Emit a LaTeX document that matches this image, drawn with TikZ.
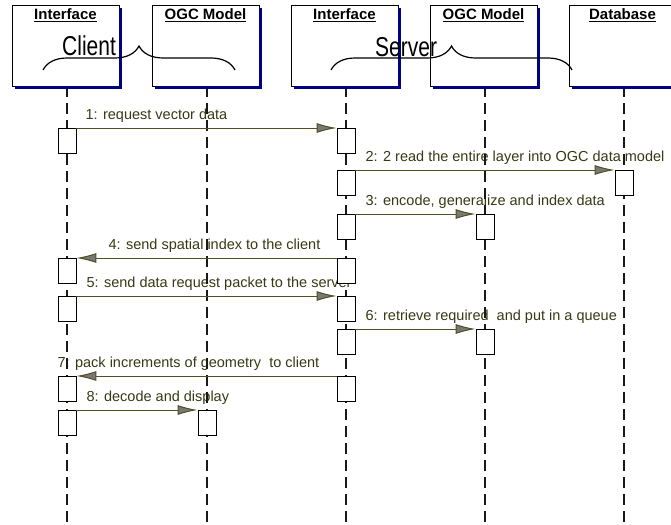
\documentclass[tikz,border=0pt]{standalone}
\usepackage{fontspec}
\setmainfont{Liberation Sans}
\usetikzlibrary{arrows.meta,positioning,decorations.pathreplacing,calc}

\definecolor{msgline}{RGB}{80,80,32}
\definecolor{msgtext}{RGB}{56,56,20}
\definecolor{headgray}{RGB}{120,120,120}
\definecolor{navyshade}{RGB}{0,0,128}

\pgfdeclarelayer{behind}
\pgfsetlayers{behind,main}

\begin{document}
\begin{tikzpicture}[
  x=1pt, y=-1pt,
  font=\fontsize{14.5}{17}\selectfont,
  header/.style={draw, line width=0.9pt, fill=white,
    minimum width=107pt, minimum height=81pt, inner sep=0pt},
  headshade/.style={draw=navyshade, line width=3pt, line join=miter},
  title/.style={anchor=base, inner sep=0pt, font=\fontsize{15}{17}\selectfont\bfseries},
  act/.style={draw, line width=0.9pt, fill=white,
    minimum width=18pt, minimum height=25pt, inner sep=0pt, anchor=north},
  lifeline/.style={line width=1.2pt, black!90, dash pattern=on 11pt off 6pt},
  msg/.style={draw=msgline, line width=1pt, -{Latex[length=20pt,width=10pt,fill=headgray]}},
  lbl/.style={anchor=base west, text=msgtext, inner sep=0pt},
  group/.style={line width=1.2pt, decorate, decoration={brace, amplitude=24pt}},
  grouplbl/.style={anchor=base west, inner sep=0pt, font=\fontsize{21}{24}\selectfont}
]
\useasboundingbox (0,0) rectangle (671,524);
\coordinate (bot) at (0,524);

% Object headers
\node[header] (ci) at (65.5,45.5) {};
\node[header] (cm) at (205.5,45.5) {};
\node[header] (si) at (344.5,45.5) {};
\node[header] (sm) at (483.5,45.5) {};
\node[header] (db) at (622.5,45.5) {};
% navy shadow along right and bottom edges
\draw[headshade] ([xshift=1.5pt,yshift=-3pt]ci.north east) -- ([xshift=1.5pt,yshift=-1.5pt]ci.south east) -- ([xshift=3pt,yshift=-1.5pt]ci.south west);
\draw[headshade] ([xshift=1.5pt,yshift=-3pt]cm.north east) -- ([xshift=1.5pt,yshift=-1.5pt]cm.south east) -- ([xshift=3pt,yshift=-1.5pt]cm.south west);
\draw[headshade] ([xshift=1.5pt,yshift=-3pt]si.north east) -- ([xshift=1.5pt,yshift=-1.5pt]si.south east) -- ([xshift=3pt,yshift=-1.5pt]si.south west);
\draw[headshade] ([xshift=1.5pt,yshift=-3pt]sm.north east) -- ([xshift=1.5pt,yshift=-1.5pt]sm.south east) -- ([xshift=3pt,yshift=-1.5pt]sm.south west);
\draw[headshade] ([xshift=1.5pt,yshift=-3pt]db.north east) -- ([xshift=1.5pt,yshift=-1.5pt]db.south east) -- ([xshift=3pt,yshift=-1.5pt]db.south west);
\node[title] (ci-title) at ([yshift=-15pt]ci.north) {\underline{Interface}};
\node[title] (cm-title) at ([yshift=-15pt]cm.north) {\underline{OGC Model}};
\node[title] (si-title) at ([yshift=-15pt]si.north) {\underline{Interface}};
\node[title] (sm-title) at ([yshift=-15pt]sm.north) {\underline{OGC Model}};
\node[title] (db-title) at ([yshift=-15pt]db.north) {\underline{Database}};

% Client / Server groups
\coordinate (client-a) at (43,70);
\coordinate (client-b) at (235,70);
\coordinate (server-a) at (331,70);
\coordinate (server-b) at (572,70);
\draw[group] (client-a) -- (client-b);
\draw[group] (server-a) -- (server-b);
\node[grouplbl] (client) at (62,56) {\scalebox{1}[1.3]{Client}};
\node[grouplbl] (server) at (375,57) {\scalebox{1}[1.3]{Server}};

% Activations
\node[act] (ci1) at (67,128) {};
\node[act] (ci2) at (67,258) {};
\node[act] (ci3) at (67,296) {};
\node[act] (ci4) at (67,376) {};
\node[act] (ci5) at (67,410) {};
\node[act] (cm1) at (207,410) {};
\node[act] (si1) at (346,128) {};
\node[act] (si2) at (346,170) {};
\node[act] (si3) at (346,214) {};
\node[act] (si4) at (346,258) {};
\node[act] (si5) at (346,296) {};
\node[act] (si6) at (346,329) {};
\node[act] (si7) at (346,376) {};
\node[act] (sm1) at (485,214) {};
\node[act] (sm2) at (485,329) {};
\node[act] (db1) at (624,170) {};

% Messages
\draw[msg] (ci1.north east) -- (si1.north west);
\draw[msg] (si2.north east) -- (db1.north west);
\draw[msg] (si3.north east) -- (sm1.north west);
\draw[msg] (si4.north west) -- (ci2.north east);
\draw[msg] (ci3.north east) -- (si5.north west);
\draw[msg] (si6.north east) -- (sm2.north west);
\draw[msg] (si7.north west) -- (ci4.north east);
\draw[msg] (ci5.north east) -- (cm1.north west);

\begin{pgfonlayer}{behind}
% labels sit under the lifelines
\node[lbl] (m1) at ([xshift=9pt,yshift=9pt]ci1.north east) {1: request vector data};
\node[lbl] (m2) at ([xshift=10pt,yshift=9pt]si2.north east) {2: 2 read the entire layer into OGC data model};
\node[lbl] (m3) at ([xshift=10pt,yshift=9pt]si3.north east) {3: encode, generalize and index data};
\node[lbl] (m4) at ([xshift=32pt,yshift=9pt]ci2.north east) {4: send spatial index to the client};
\node[lbl] (m5) at ([xshift=10pt,yshift=9pt]ci3.north east) {5: send data request packet to the server};
\node[lbl] (m6) at ([xshift=10pt,yshift=9pt]si6.north east) {6: retrieve required~ and put in a queue};
\node[lbl] (m7) at ([xshift=-19pt,yshift=9pt]ci4.north east) {7: pack increments of geometry~ to client};
\node[lbl] (m8) at ([xshift=10pt,yshift=9pt]ci5.north east) {8: decode and display};
% Lifelines
\draw[lifeline] ([xshift=1.5pt]ci.south) -- ([xshift=1.5pt]ci.south |- bot);
\draw[lifeline] ([xshift=1.5pt]cm.south) -- ([xshift=1.5pt]cm.south |- bot);
\draw[lifeline] ([xshift=1.5pt]si.south) -- ([xshift=1.5pt]si.south |- bot);
\draw[lifeline] ([xshift=1.5pt]sm.south) -- ([xshift=1.5pt]sm.south |- bot);
\draw[lifeline] ([xshift=1.5pt]db.south) -- ([xshift=1.5pt]db.south |- bot);
\end{pgfonlayer}
\end{tikzpicture}
\end{document}
